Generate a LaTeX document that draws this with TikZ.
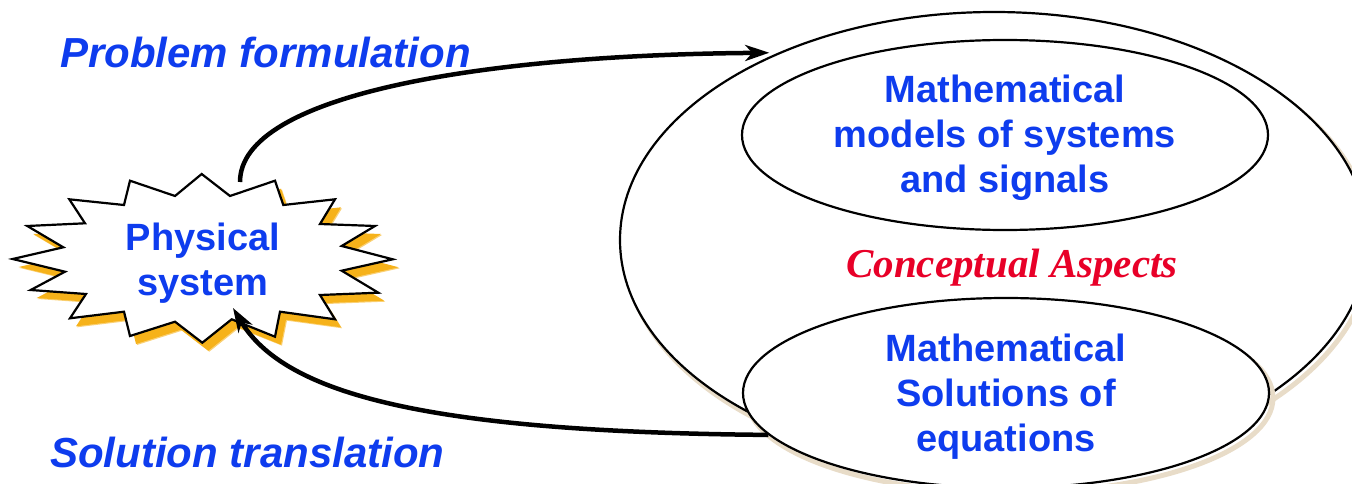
\documentclass[tikz,border=0pt]{standalone}
\usepackage{fontspec}
\setmainfont{Liberation Sans}
\newfontfamily\serifbi{Liberation Serif}
\usetikzlibrary{arrows.meta,shapes.geometric}
\definecolor{tblue}{RGB}{14,60,238}
\definecolor{tred}{RGB}{232,0,40}
\definecolor{burst}{RGB}{246,178,26}
\definecolor{shade}{RGB}{232,220,200}
\tikzset{
  bluetxt/.style={text=tblue, font=\bfseries\fontsize{38}{45}\selectfont, align=center},
  bubble/.style={ellipse, draw=black, line width=2.2pt, fill=white, minimum width=526pt, minimum height=190pt, inner sep=0pt},
  flow/.style={line width=4.5pt, -{Stealth[length=24pt,width=16pt,inset=7pt]}},
  steplabel/.style={text=tblue, font=\bfseries\itshape\fontsize{42}{48}\selectfont, anchor=west, inner sep=0pt},
  burstline/.style={draw=black, line width=2.2pt, fill=white, line join=miter}
}
\begin{document}
\begin{tikzpicture}[x=1pt,y=-1pt]
\useasboundingbox (0,0) rectangle (1352,484);
% starburst shadow and body
\def\burstpath{(201.7,174) -- (230,196) -- (275,180.7) -- (283.3,205) -- (335,199.3) -- (320,224) -- (375,226) -- (341.7,246) -- (392.7,259.3) -- (341.7,270.7) -- (378.3,292.7) -- (320,295) -- (335,319.3) -- (280,311.7) -- (275,336.7) -- (231.7,319.3) -- (202.3,342.7) -- (175,321.7) -- (130,336) -- (124,311.7) -- (70,318.3) -- (86,294) -- (30.7,290) -- (65,271.7) -- (12.7,259) -- (63.3,247.3) -- (27.3,226) -- (85,223.3) -- (69.3,199.3) -- (124,205) -- (130,180.7) -- (175,196) -- cycle}
\begin{scope}[shift={(7,9)}]
  \fill[burst!60] \burstpath;
\end{scope}
\begin{scope}[shift={(6,8)}]
  \fill[burst] \burstpath;
\end{scope}
\path[burstline] \burstpath;
\node[bluetxt] (phys) at (203,263) {Physical\\system};
% outer ellipse
\node[ellipse, draw=shade, line width=5pt, minimum width=748pt, minimum height=456pt, inner sep=0pt] (outershadow) at (998,245) {};
\node[ellipse, draw=black, line width=2.2pt, fill=white, minimum width=748pt, minimum height=456pt, inner sep=0pt] (outer) at (994,240) {};
% inner ellipses
\node[ellipse, draw=shade, line width=5pt, minimum width=526pt, minimum height=190pt, inner sep=0pt] (lowshadow) at (1010,398) {};
\node[bubble] (models) at (1005,135) {};
\node[bluetxt] (modelstext) at (1005,138) {Mathematical\\models of systems\\and signals};
\node[bubble] (low) at (1006,393) {};
\node[bluetxt] (lowtext) at (1006,397) {Mathematical\\Solutions of\\equations};
\node[text=tred, font=\serifbi\bfseries\itshape\fontsize{41}{48}\selectfont] (concept) at (1012,268) {Conceptual Aspects};
% labels
\node[steplabel] (formul) at (60,52) {Problem formulation};
\node[steplabel] (transl) at (50,452) {Solution translation};
% arrows
\coordinate (startup) at (240,182);
\coordinate (endlow) at (233,308);
\draw[flow] (startup) .. controls (240,95) and (480,55) .. ([shift={(-4,-2)}]outer.140);
\draw[flow] (low.190) .. controls (430,432) and (285,395) .. (endlow);
\end{tikzpicture}
\end{document}
